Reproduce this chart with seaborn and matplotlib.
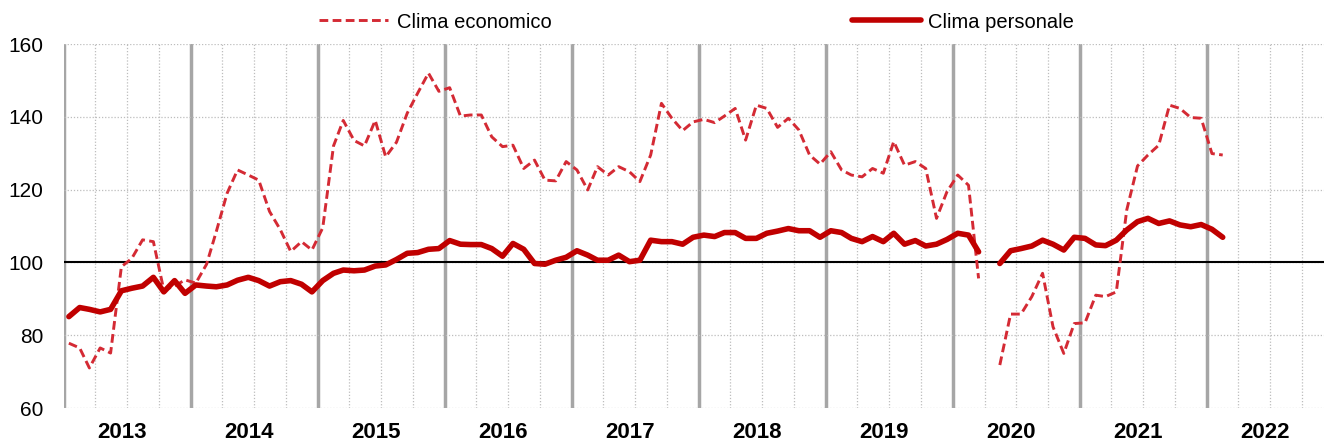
import matplotlib
matplotlib.use("Agg")
import matplotlib.pyplot as plt
import matplotlib.dates as mdates
import seaborn as sns
import numpy as np
import pandas as pd

# monthly indices, Jan 2013 - Feb 2022 (April 2020 not surveyed)
clima_economico = [
    77.8, 76.5, 71.0, 76.5, 75.1, 98.8, 101.1, 106.2, 105.7, 92.4, 93.5, 95.2,
    94.3, 99.5, 108.5, 119.0, 125.4, 124.0, 122.6, 114.0, 109.0, 103.0, 105.7, 103.4,
    109.5, 132.0, 139.0, 133.5, 132.0, 139.0, 129.0, 133.0, 141.0, 146.5, 152.0, 147.0,
    148.0, 140.2, 140.5, 140.5, 134.5, 131.8, 132.2, 125.8, 128.1, 122.6, 122.4, 127.7,
    125.4, 119.9, 126.3, 124.0, 126.3, 124.9, 122.2, 129.5, 143.7, 139.6, 136.2, 138.6,
    139.3, 138.4, 140.2, 142.3, 133.6, 143.2, 142.3, 137.1, 139.6, 136.4, 129.5, 127.0,
    130.4, 125.4, 124.0, 123.5, 125.8, 124.5, 133.2, 126.7, 127.7, 125.8, 112.1, 119.4,
    124.0, 121.2, 95.6, None, 71.8, 85.8, 85.8, 90.6, 97.0, 82.3, 75.0, 83.2,
    83.4, 91.0, 90.6, 91.9, 114.4, 126.5, 129.5, 132.2, 143.2, 142.3, 139.8, 139.6,
    129.9, 129.5,
]
clima_personale = [
    85.1, 87.6, 87.1, 86.4, 87.1, 92.2, 92.9, 93.5, 95.9, 91.9, 95.0, 91.5,
    93.8, 93.5, 93.3, 93.8, 95.1, 95.9, 95.0, 93.5, 94.7, 95.0, 94.0, 91.9,
    95.0, 97.0, 97.9, 97.7, 97.9, 99.0, 99.3, 100.8, 102.5, 102.7, 103.6, 103.8,
    106.0, 105.0, 104.9, 104.9, 103.8, 101.7, 105.2, 103.6, 99.7, 99.5, 100.6, 101.4,
    103.2, 102.0, 100.6, 100.6, 102.0, 100.2, 100.6, 106.1, 105.7, 105.7, 105.0, 106.9,
    107.5, 107.1, 108.2, 108.2, 106.6, 106.6, 108.0, 108.6, 109.3, 108.7, 108.7, 106.9,
    108.7, 108.2, 106.6, 105.7, 107.1, 105.7, 108.0, 105.0, 106.0, 104.5, 105.0, 106.3,
    108.0, 107.5, 102.9, None, 99.7, 103.2, 103.8, 104.5, 106.1, 105.0, 103.4, 106.9,
    106.6, 104.8, 104.6, 106.1, 108.9, 111.2, 112.1, 110.7, 111.4, 110.3, 109.8, 110.4,
    109.1, 106.9,
]
years = list(range(2013, 2023))
y_ticks = [60, 80, 100, 120, 140, 160]
labels = ["Clima economico", "Clima personale"]

months = pd.date_range("2013-01-01", periods=len(clima_economico), freq="MS") + pd.Timedelta(days=14)


def to_frame(values):
    df = pd.DataFrame({"date": months, "value": pd.to_numeric(pd.Series(values), errors="coerce")})
    # break the line where a month is missing
    df["seg"] = df["value"].isna().cumsum()
    return df.dropna()


eco = to_frame(clima_economico)
pers = to_frame(clima_personale)

sns.set_theme(style="white")
plt.rcParams["font.family"] = ["Liberation Sans", "DejaVu Sans"]
plt.rcParams["text.color"] = "black"
plt.rcParams["ytick.color"] = "black"
plt.rcParams["xtick.color"] = "black"

fig = plt.figure(figsize=(13.24, 4.44), dpi=100)
ax = fig.add_axes([64 / 1324, 1 - 408 / 444, 1270 / 1324, 364 / 444])

# grid: dotted horizontals + quarters, solid grey year boundaries
ax.set_ylim(60, 160)
ax.set_xlim(pd.Timestamp("2013-01-01"), pd.Timestamp("2023-01-01"))
ax.set_yticks(y_ticks)
ax.xaxis.set_major_locator(mdates.YearLocator())
ax.xaxis.set_minor_locator(mdates.MonthLocator(bymonth=[4, 7, 10]))
ax.xaxis.set_major_formatter(plt.NullFormatter())
ax.grid(True, axis="y", color="#BDBDBD", linestyle=(0, (1, 1.5)), linewidth=0.9)
ax.grid(True, axis="x", which="major", color="#A6A6A6", linestyle="-", linewidth=2.5)
ax.grid(True, axis="x", which="minor", color="#BDBDBD", linestyle=(0, (1, 1.5)), linewidth=0.9)
ax.set_axisbelow(True)
ax.axhline(100, color="black", linewidth=1.5, zorder=1.5)

sns.lineplot(data=eco, x="date", y="value", units="seg", estimator=None, ax=ax,
             color="#D42A34", linewidth=2.1, linestyle=(0, (3.0, 1.5)),
             legend=False, zorder=3)
eco_line = ax.lines[-1]
sns.lineplot(data=pers, x="date", y="value", units="seg", estimator=None, ax=ax,
             color="#C00000", linewidth=4.0, solid_joinstyle="round",
             solid_capstyle="round", legend=False, zorder=4)
pers_line = ax.lines[-1]

for s in ax.spines.values():
    s.set_visible(False)
ax.set_xlabel("")
ax.set_ylabel("")
ax.tick_params(axis="both", which="both", length=0)
ax.tick_params(axis="y", labelsize=15, pad=15, labelcolor="black")

for yr in years:
    ax.text(pd.Timestamp(f"{yr}-06-16"), -0.066, str(yr), transform=ax.get_xaxis_transform(),
            ha="center", va="center", fontsize=16, fontweight="bold", color="black")

for line, text, x0, pad in [(eco_line, labels[0], 319, 0.4), (pers_line, labels[1], 852, 0.3)]:
    leg = fig.legend([line], [text], loc="center left", bbox_to_anchor=(x0 / 1324, 1 - 22 / 444),
                     frameon=False, fontsize=14.5, handlelength=3.45, handletextpad=pad,
                     borderpad=0, borderaxespad=0, labelcolor="black")

fig.savefig("out.png", dpi=100)
